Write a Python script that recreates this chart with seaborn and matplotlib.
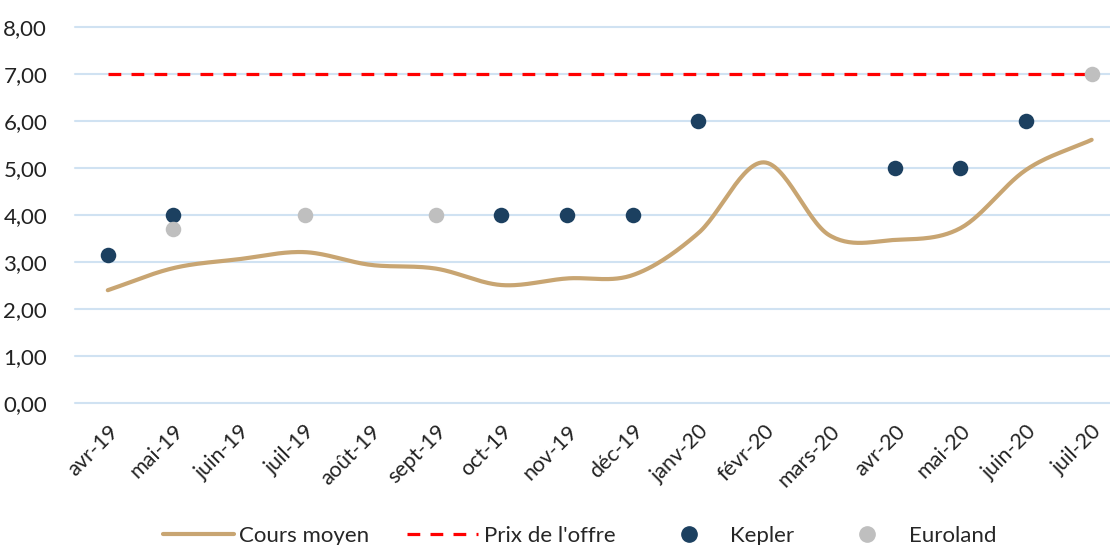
import numpy as np
import pandas as pd
import matplotlib
matplotlib.use("Agg")
import matplotlib.pyplot as plt
import matplotlib.transforms as mtransforms
import seaborn as sns
from matplotlib.lines import Line2D

# data
months = ["avr-19", "mai-19", "juin-19", "juil-19", "août-19", "sept-19", "oct-19", "nov-19",
          "déc-19", "janv-20", "févr-20", "mars-20", "avr-20", "mai-20", "juin-20", "juil-20"]
cours_moyen = [2.40, 2.87, 3.06, 3.21, 2.94, 2.86, 2.51, 2.65, 2.72, 3.61, 5.12, 3.57, 3.47, 3.72, 4.96, 5.60]
prix_offre = [7.0] * 16
kepler = [3.15, 4.0, np.nan, np.nan, np.nan, np.nan, 4.0, 4.0, 4.0, 6.0, np.nan, np.nan, 5.0, 5.0, 6.0, np.nan]
euroland = [np.nan, 3.70, np.nan, 4.0, np.nan, 4.0, np.nan, np.nan, np.nan, np.nan, np.nan, np.nan, np.nan, np.nan, np.nan, 7.0]

C_LINE = "#C8A572"
C_RED = "#FF0000"
C_KEP = "#1C4060"
C_EUR = "#BFBFBF"
C_GRID = "#D0E2F2"

sns.set_theme(style="white")
plt.rcParams["font.family"] = ["Lato", "DejaVu Sans"]

df = pd.DataFrame({"x": np.arange(len(months)), "cours": cours_moyen, "prix": prix_offre,
                   "kepler": kepler, "euroland": euroland})


# smoothed curve like excel's "smoothed line" (catmull-rom through the points)
def smooth(x, y, n=30):
    x = np.asarray(x, float)
    y = np.asarray(y, float)
    px = np.concatenate([[2 * x[0] - x[1]], x, [2 * x[-1] - x[-2]]])
    py = np.concatenate([[2 * y[0] - y[1]], y, [2 * y[-1] - y[-2]]])
    xs, ys = [], []
    t = np.linspace(0, 1, n, endpoint=False)
    for i in range(1, len(px) - 2):
        for p, out in ((px, xs), (py, ys)):
            p0, p1, p2, p3 = p[i - 1], p[i], p[i + 1], p[i + 2]
            out.extend(0.5 * ((2 * p1) + (-p0 + p2) * t + (2 * p0 - 5 * p1 + 4 * p2 - p3) * t ** 2
                              + (-p0 + 3 * p1 - 3 * p2 + p3) * t ** 3))
    xs.append(x[-1])
    ys.append(y[-1])
    return pd.DataFrame({"x": xs, "y": ys})


sm = smooth(df["x"], df["cours"])

fig = plt.figure(figsize=(11.10, 5.45), dpi=100)
ax = fig.add_axes([75 / 1110, 1 - 403 / 545, 1 - 75 / 1110, (403 - 27) / 545])

for v in range(0, 9):
    ax.axhline(v, color=C_GRID, lw=1.5, zorder=0, clip_on=False)

sns.lineplot(data=sm, x="x", y="y", sort=False, color=C_LINE, lw=3, ax=ax, zorder=2)
sns.lineplot(data=df, x="x", y="prix", color=C_RED, lw=2.3, ax=ax, zorder=3, dashes=False,
             linestyle=(0, (4, 3.2)))
sns.scatterplot(data=df, x="x", y="kepler", color=C_KEP, s=125, linewidth=0, ax=ax, zorder=4)
sns.scatterplot(data=df, x="x", y="euroland", color=C_EUR, s=125, linewidth=0, ax=ax, zorder=5)

ax.set_xlim(-0.5, 15.28)
ax.set_ylim(0, 8)
ax.set_yticks(range(0, 9))
ax.set_yticklabels([f"{v},00" for v in range(0, 9)], fontsize=16, color="#222222")
ax.set_xticks(df["x"])
ax.set_xticklabels(months, rotation=45, ha="right", rotation_mode="anchor", fontsize=15.5, color="#222222")
shift = mtransforms.ScaledTranslation(5 / 100, 0, fig.dpi_scale_trans)
for lab in ax.get_xticklabels():
    lab.set_transform(lab.get_transform() + shift)
ax.tick_params(axis="y", length=0, pad=20)
ax.tick_params(axis="x", length=0, pad=13)
ax.set_xlabel("")
ax.set_ylabel("")
for s in ax.spines.values():
    s.set_visible(False)

handles = [
    Line2D([], [], color=C_LINE, lw=3),
    Line2D([], [], color=C_RED, lw=2.3, linestyle=(0, (4, 3.2))),
    Line2D([], [], color=C_KEP, marker="o", markersize=11, linestyle="none"),
    Line2D([], [], color=C_EUR, marker="o", markersize=11, linestyle="none"),
]
labels = ["Cours moyen", "Prix de l'offre", "Kepler", "Euroland"]
fig.legend(handles, labels, loc="lower center", bbox_to_anchor=(0.522, -0.038), ncol=4, frameon=False,
           fontsize=16, handlelength=3.2, columnspacing=1.7, handletextpad=0.25)

fig.savefig("out.png", dpi=100)
